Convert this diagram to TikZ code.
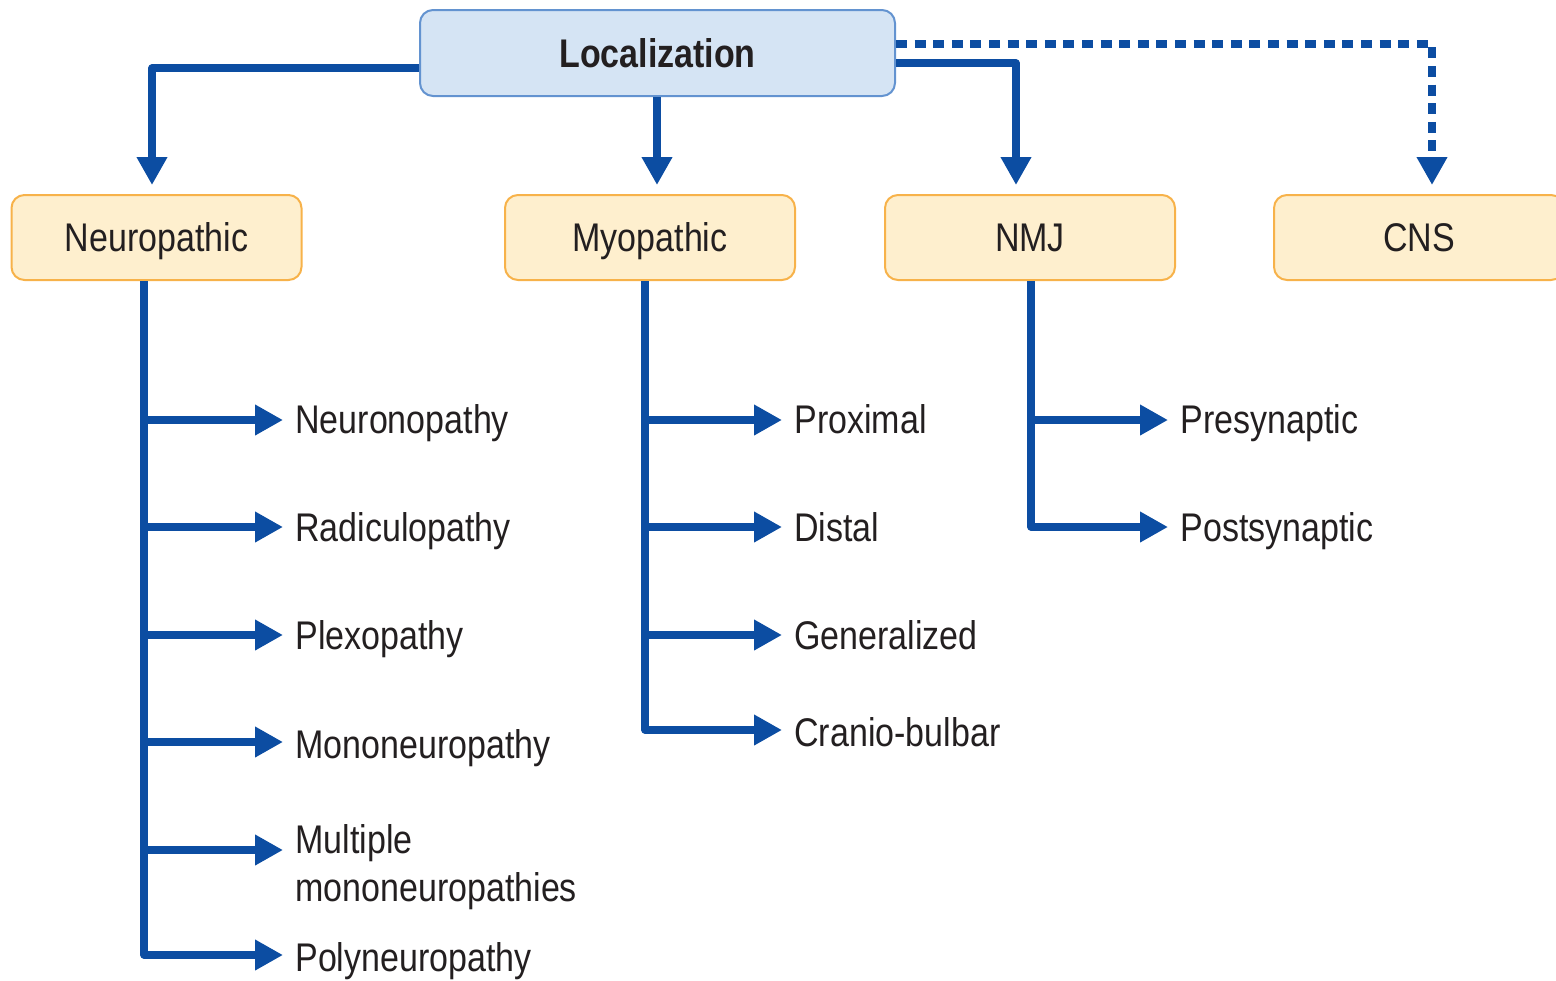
\documentclass[tikz,border=0pt]{standalone}
\usepackage{fontspec}
\setmainfont{Liberation Sans}[FakeStretch=0.85]
\usetikzlibrary{arrows.meta,calc}
\definecolor{lineblue}{HTML}{0C4DA2}
\definecolor{topfill}{HTML}{D5E4F4}
\definecolor{topdraw}{HTML}{6393D0}
\definecolor{catfill}{HTML}{FEEFCE}
\definecolor{catdraw}{HTML}{F7B24A}
\definecolor{txt}{HTML}{231F20}
\tikzset{
  topbox/.style={draw=topdraw, fill=topfill, line width=1pt, rounded corners=6.5pt,
    minimum width=237.5pt, minimum height=43pt, inner sep=0pt,
    text height=14.3pt, text depth=0pt,
    font=\fontsize{20}{24}\selectfont\bfseries, text=txt},
  catbox/.style={draw=catdraw, fill=catfill, line width=1pt, rounded corners=6.5pt,
    minimum width=145pt, minimum height=42.5pt, inner sep=0pt,
    text height=14.3pt, text depth=0pt,
    font=\fontsize{20}{24}\selectfont, text=txt},
  lbl/.style={anchor=base west, inner sep=6pt, align=left, text=txt,
    font=\fontsize{20}{24}\selectfont},
  conn/.style={draw=lineblue, line width=3.6pt, line join=round,
    -{Triangle[length=14pt,width=14.5pt]}},
  dotconn/.style={conn, dash pattern=on 5.5pt off 3.8pt}
}
\begin{document}
\begin{tikzpicture}[x=0.5pt,y=-0.5pt]
\useasboundingbox (0,0) rectangle (1556,980);

% top node
\node[topbox] (loc) at (657.5,53) {Localization};

% categories
\node[catbox] (neu) at (156.5,237.5) {Neuropathic};
\node[catbox] (myo) at (650,237.5) {Myopathic};
\node[catbox] (nmj) at (1030,237.5) {NMJ};
\node[catbox] (cns) at (1419,237.5) {CNS};

% arrow end points above categories
\coordinate (tneu) at (152,185);
\coordinate (tmyo) at (657,185);
\coordinate (tnmj) at (1016,185);
\coordinate (tcns) at (1432,185);

\draw[conn] (loc.west |- 0,68) -| (tneu);
\draw[conn] (loc.south -| 657,0) -- (tmyo);
\draw[conn] (loc.east |- 0,63) -| (tnmj);
\draw[dotconn] (loc.east |- 0,44) -| (tcns);

% neuropathic leaves (positioned at baselines)
\node[lbl] (n1) at (283,433) {Neuronopathy};
\node[lbl] (n2) at (283,541) {Radiculopathy};
\node[lbl] (n3) at (283,649) {Plexopathy};
\node[lbl] (n4) at (283,758) {Mononeuropathy};
\node[lbl] (n5) at (283,901) {Multiple\\mononeuropathies};
\node[lbl] (n6) at (283,971) {Polyneuropathy};

\draw[conn] (neu.south -| 144,0) |- (n6.west |- 0,955);
\draw[conn] (144,420) -- (n1.west |- 0,420);
\draw[conn] (144,527) -- (n2.west |- 0,527);
\draw[conn] (144,635) -- (n3.west |- 0,635);
\draw[conn] (144,742) -- (n4.west |- 0,742);
\draw[conn] (144,850) -- (n5.west |- 0,850);

% myopathic leaves
\node[lbl] (m1) at (782,433) {Proximal};
\node[lbl] (m2) at (782,541) {Distal};
\node[lbl] (m3) at (782,649) {Generalized};
\node[lbl] (m4) at (782,746) {Cranio-bulbar};

\draw[conn] (myo.south -| 645,0) |- (m4.west |- 0,730);
\draw[conn] (645,420) -- (m1.west |- 0,420);
\draw[conn] (645,527) -- (m2.west |- 0,527);
\draw[conn] (645,635) -- (m3.west |- 0,635);

% NMJ leaves
\node[lbl] (j1) at (1168,433) {Presynaptic};
\node[lbl] (j2) at (1168,541) {Postsynaptic};

\draw[conn] (nmj.south -| 1031,0) |- (j2.west |- 0,527);
\draw[conn] (1031,420) -- (j1.west |- 0,420);
\end{tikzpicture}
\end{document}
